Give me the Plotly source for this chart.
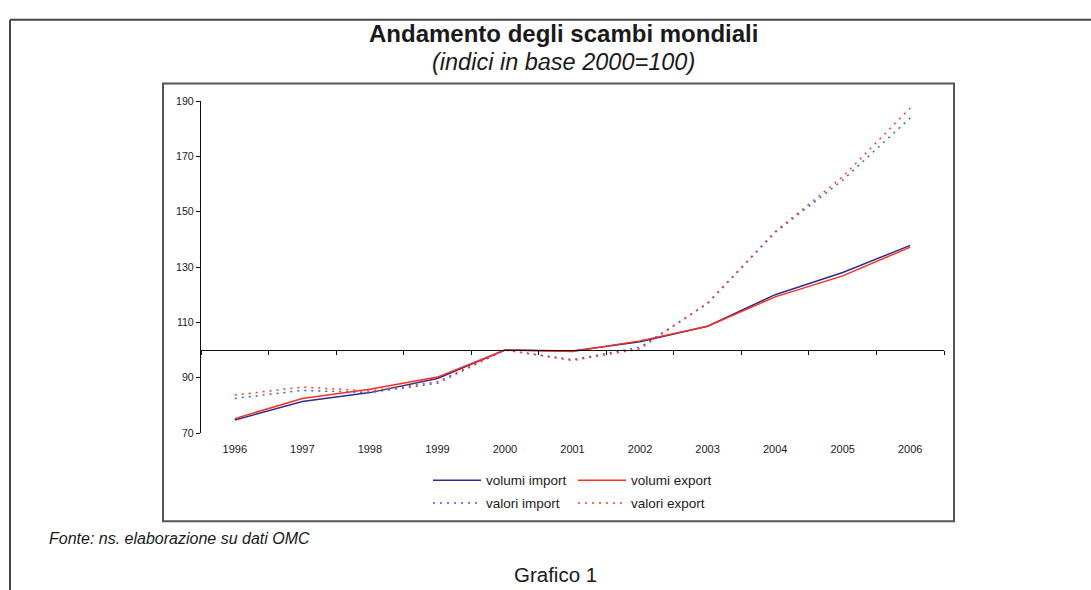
import plotly.graph_objects as go

years = [1996, 1997, 1998, 1999, 2000, 2001, 2002, 2003, 2004, 2005, 2006]
volumi_import = [74.7, 81.4, 84.6, 89.7, 100, 99.6, 103.0, 108.6, 120.0, 128.0, 137.8]
volumi_export = [75.2, 82.5, 85.8, 90.2, 100, 99.5, 103.3, 108.6, 119.2, 126.8, 137.2]
valori_import = [82.5, 85.4, 84.6, 88.0, 100, 96.5, 101.0, 116.8, 142.5, 161.4, 183.9]
valori_export = [83.7, 86.6, 85.2, 88.5, 100, 96.2, 100.4, 117.0, 142.8, 162.6, 187.5]
y_ticks = [70, 90, 110, 130, 150, 170, 190]
base_value = 100

FONT = "Liberation Sans, Arial, Helvetica, sans-serif"
W, H = 1091, 590
L, R, T, B = 201, 944, 100.5, 433.5  # plot area in px


def px_x(px):
    return (px - L) / (R - L)


def px_y(py):
    return (B - py) / (B - T)


fig = go.Figure()
series = [
    ("volumi import", volumi_import, "#2b2f8f", "solid", "legend"),
    ("volumi export", volumi_export, "#ff2d1e", "solid", "legend"),
    ("valori import", valori_import, "#3f5ccc", "2px,5px", "legend2"),
    ("valori export", valori_export, "#ff3b2b", "2px,5px", "legend2"),
]
for name, vals, col, dash, lg in series:
    fig.add_trace(go.Scatter(
        x=years, y=vals, name=name, mode="lines",
        line=dict(color=col, width=1.5, dash=dash),
        legend=lg,
    ))

# empty trace to host the crossing axis
fig.add_trace(go.Scatter(x=[], y=[], xaxis="x2", showlegend=False, hoverinfo="skip"))

yr_min, yr_max = min(years) - 0.5, max(years) + 0.5
bounds = [y + 0.5 for y in range(min(years) - 1, max(years) + 1)]

fig.update_layout(
    width=W, height=H,
    margin=dict(l=L, r=W - R, t=T, b=H - B, pad=0),
    paper_bgcolor="white", plot_bgcolor="white",
    font=dict(family=FONT, color="#1a1a1a"),
    showlegend=True,
    xaxis=dict(
        range=[yr_min, yr_max], tickvals=years, ticktext=[str(y) for y in years],
        showgrid=False, zeroline=False, showline=False,
        ticks="outside", ticklen=6, tickcolor="rgba(0,0,0,0)",
        tickfont=dict(size=11, family=FONT, color="#1a1a1a"),
    ),
    xaxis2=dict(
        overlaying="x", matches="x", anchor="free",
        position=(base_value - y_ticks[0]) / (y_ticks[-1] - y_ticks[0]),
        range=[yr_min, yr_max], tickvals=bounds, showticklabels=False,
        showgrid=False, zeroline=False, showline=True, linecolor="#111", linewidth=1.2,
        ticks="outside", ticklen=4, tickcolor="#111", tickwidth=1.2,
    ),
    yaxis=dict(
        range=[y_ticks[0], y_ticks[-1]], tickvals=y_ticks,
        showgrid=False, zeroline=False, showline=True, linecolor="#111", linewidth=1.2,
        ticks="outside", ticklen=4, tickcolor="#111", tickwidth=1.2,
        tickfont=dict(size=10.6, family=FONT, color="#1a1a1a"),
    ),
    legend=dict(
        orientation="h", x=px_x(428), y=px_y(481), xanchor="left", yanchor="middle",
        itemwidth=48, entrywidth=82, font=dict(size=13.5, family=FONT, color="#1a1a1a"),
        bgcolor="rgba(0,0,0,0)", tracegroupgap=0,
    ),
    legend2=dict(
        orientation="h", x=px_x(428), y=px_y(504), xanchor="left", yanchor="middle",
        itemwidth=48, entrywidth=82, font=dict(size=13.5, family=FONT, color="#1a1a1a"),
        bgcolor="rgba(0,0,0,0)", tracegroupgap=0,
    ),
)

# frames (decoration)
fig.add_shape(type="rect", xref="paper", yref="paper",
              x0=px_x(163), x1=px_x(954), y0=px_y(522), y1=px_y(83),
              line=dict(color="#555", width=2), layer="below")
fig.add_shape(type="line", xref="paper", yref="paper",
              x0=px_x(10), x1=px_x(1095), y0=px_y(19), y1=px_y(19),
              line=dict(color="#444", width=2))
fig.add_shape(type="line", xref="paper", yref="paper",
              x0=px_x(10), x1=px_x(10), y0=px_y(19), y1=px_y(595),
              line=dict(color="#444", width=2))

fig.add_annotation(text="<b>Andamento degli scambi mondiali</b>", xref="paper", yref="paper",
                   x=px_x(563), y=px_y(33), showarrow=False, xanchor="center", yanchor="middle",
                   font=dict(size=24, family=FONT, color="#1a1a1a"))
fig.add_annotation(text="<i>(indici in base 2000=100)</i>", xref="paper", yref="paper",
                   x=px_x(563), y=px_y(61), showarrow=False, xanchor="center", yanchor="middle",
                   font=dict(size=23.5, family=FONT, color="#1a1a1a"))
fig.add_annotation(text="<i>Fonte: ns. elaborazione su dati OMC</i>", xref="paper", yref="paper",
                   x=px_x(47), y=px_y(539), showarrow=False, xanchor="left", yanchor="middle",
                   font=dict(size=16, family=FONT, color="#1a1a1a"))
fig.add_annotation(text="Grafico 1", xref="paper", yref="paper",
                   x=px_x(555), y=px_y(575), showarrow=False, xanchor="center", yanchor="middle",
                   font=dict(size=20.5, family=FONT, color="#1a1a1a"))

fig.write_html(
    "out.html",
    config={"displayModeBar": False},
    post_script="document.body.style.margin='0';document.body.style.overflow='hidden';",
)
